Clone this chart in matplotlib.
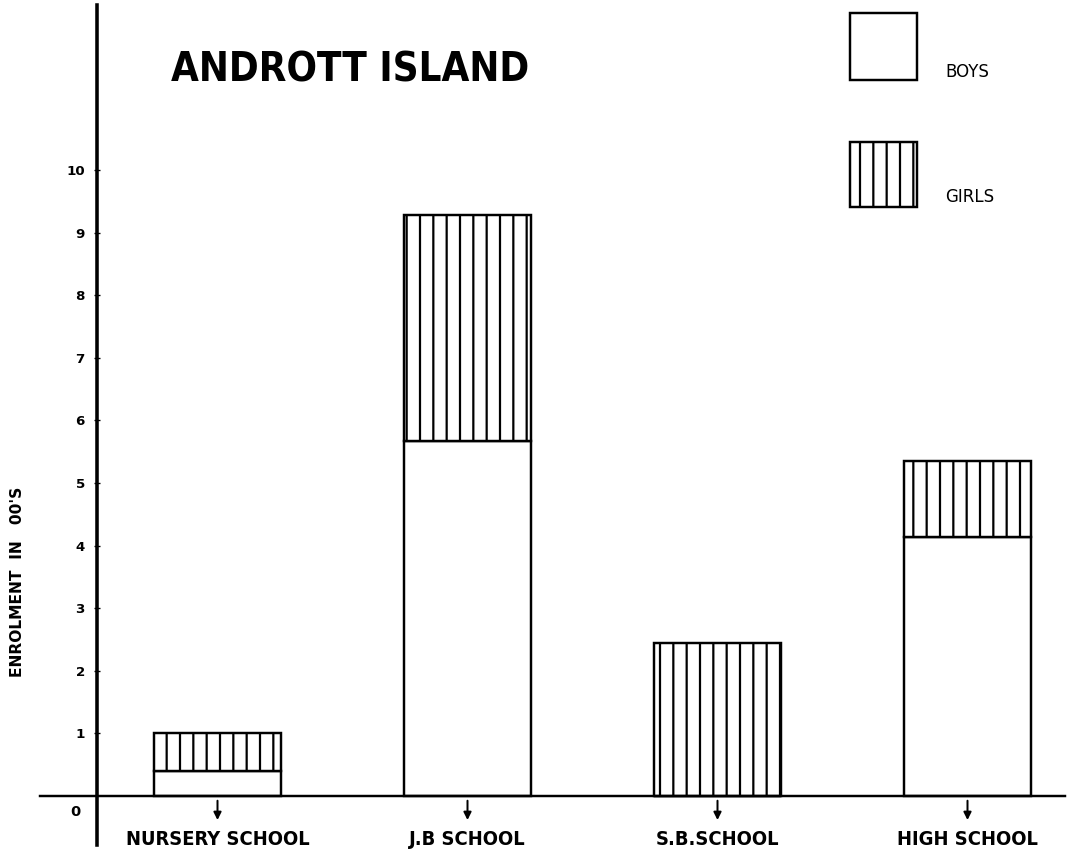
import matplotlib.pyplot as plt
from matplotlib.patches import Rectangle

# enrolment in hundreds
schools = ['NURSERY SCHOOL', 'J.B SCHOOL', 'S.B.SCHOOL', 'HIGH SCHOOL']
boys = [0.40, 5.67, 0.0, 4.14]
girls = [0.60, 3.61, 2.44, 1.21]
y_ticks = [1, 2, 3, 4, 5, 6, 7, 8, 9, 10]

plt.rcParams['hatch.linewidth'] = 2.0
plt.rcParams['hatch.color'] = 'black'

DPI = 80
fig = plt.figure(figsize=(1068 / DPI, 857 / DPI), dpi=DPI)
ax = fig.add_axes([0, 0, 1, 1])

# pixel layout: 250 px per category, 62.6 px per unit, zero line at y=796
xmin = -217.5 / 250
ax.set_xlim(xmin, xmin + 1068 / 250)
ymin = -61 / 62.6
ax.set_ylim(ymin, ymin + 857 / 62.6)

x = range(len(schools))
ax.bar(x, boys, width=0.51, color='white', edgecolor='black', linewidth=2.2)
ax.bar(x, girls, bottom=boys, width=0.51, color='white', edgecolor='black',
       linewidth=2.2, hatch='|')

# axes
for s in ['top', 'right']:
    ax.spines[s].set_visible(False)
ax.spines['left'].set_position(('data', xmin + 97 / 250))
ax.spines['left'].set_bounds(-0.78, 12.64)
ax.spines['left'].set_linewidth(3.2)
ax.spines['bottom'].set_position(('data', 0))
ax.spines['bottom'].set_bounds(xmin + 40 / 250, xmin + 1065 / 250)
ax.spines['bottom'].set_linewidth(2.2)

ax.set_yticks(y_ticks)
ax.set_yticklabels([str(t) for t in y_ticks], fontweight='bold', fontsize=12)
ax.tick_params(axis='y', direction='inout', length=6, width=1.2, pad=8)
ax.set_xticks(list(x))
ax.set_xticklabels(schools, fontweight='bold', fontsize=18,
                   fontstretch='condensed')
ax.tick_params(axis='x', length=0, pad=31)

ax.text(xmin + 75 / 250, -0.25, '0', ha='center', va='center', fontsize=13,
        fontweight='bold')

for i in x:
    ax.annotate('', xy=(i, -0.42), xytext=(i, -0.04),
                arrowprops=dict(arrowstyle='-|>', lw=1.8, color='black',
                                mutation_scale=14))

ax.text(18 / 1068, 1 - 582 / 857, "ENROLMENT  IN   00'S", rotation=90,
        transform=ax.transAxes, ha='center', va='center', fontsize=14,
        fontweight='bold')

ax.text(350 / 1068, 1 - 70 / 857, 'ANDROTT ISLAND', transform=ax.transAxes,
        ha='center', va='center', fontsize=36, fontweight='bold',
        fontstretch='condensed')

# legend boxes
ax.add_patch(Rectangle((850 / 1068, 1 - 80 / 857), 67 / 1068, 67 / 857,
                       transform=ax.transAxes, facecolor='white',
                       edgecolor='black', linewidth=2.2))
ax.add_patch(Rectangle((850 / 1068, 1 - 207 / 857), 67 / 1068, 65 / 857,
                       transform=ax.transAxes, facecolor='white',
                       edgecolor='black', linewidth=2.2, hatch='|'))
ax.text(945 / 1068, 1 - 72 / 857, 'BOYS', transform=ax.transAxes,
        va='center', fontsize=15)
ax.text(945 / 1068, 1 - 197 / 857, 'GIRLS', transform=ax.transAxes,
        va='center', fontsize=15)

fig.savefig('out.png', dpi=DPI)
